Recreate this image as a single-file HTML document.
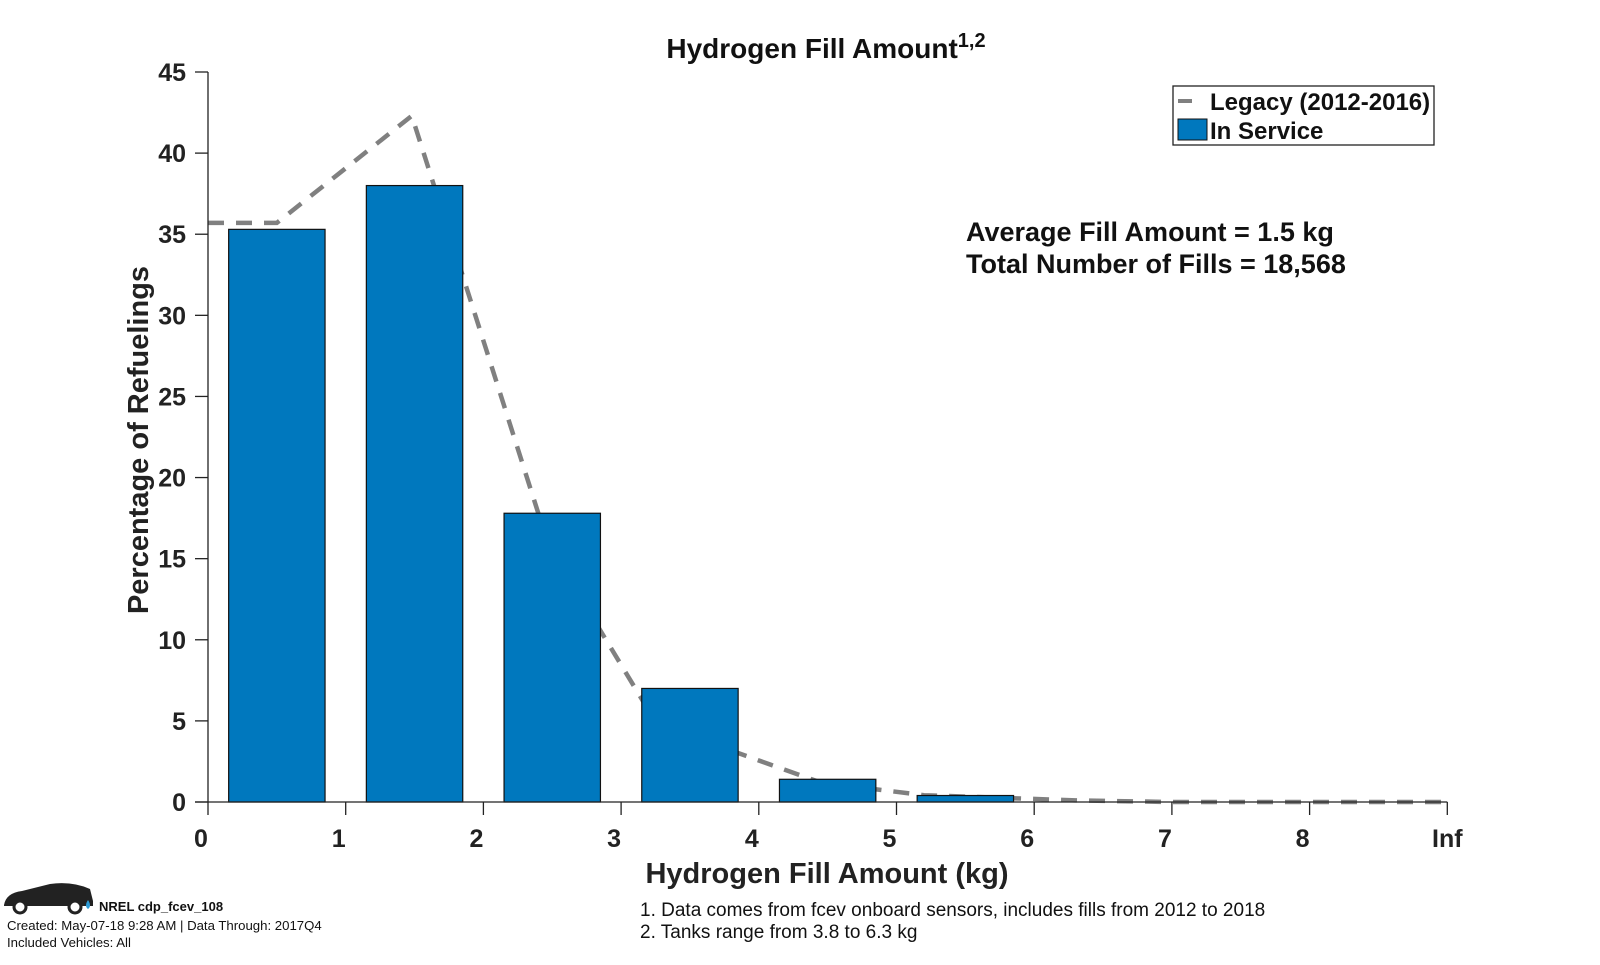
<!DOCTYPE html>
<html><head><meta charset="utf-8"><style>
body{margin:0;background:#fff;width:1600px;height:960px;overflow:hidden;font-family:"Liberation Sans",Arial,sans-serif}
</style></head><body>
<svg id="chart" width="1600" height="960" xmlns="http://www.w3.org/2000/svg" font-family="Liberation Sans, Arial, sans-serif">
<text x="826" y="58" text-anchor="middle" font-size="28" font-weight="bold" fill="#111">Hydrogen Fill Amount<tspan dy="-11" font-size="20">1,2</tspan></text>
<g id="legacy"></g>
<g id="bars"></g>
<g id="axes"></g>
<text transform="translate(148,440) rotate(-90)" text-anchor="middle" font-size="29" font-weight="bold" fill="#222">Percentage of Refuelings</text>
<text x="827" y="883" text-anchor="middle" font-size="29" font-weight="bold" fill="#222">Hydrogen Fill Amount (kg)</text>
<g font-size="27" font-weight="bold" fill="#111">
<text x="966" y="241">Average Fill Amount = 1.5 kg</text>
<text x="966" y="273">Total Number of Fills = 18,568</text>
</g>
<g>
<rect x="1173" y="86" width="261" height="59" fill="#fff" stroke="#222" stroke-width="1.3"/>
<line x1="1178" y1="101" x2="1192" y2="101" stroke="#808080" stroke-width="4"/>
<text x="1210" y="110" font-size="24" font-weight="bold" fill="#111">Legacy (2012-2016)</text>
<rect x="1178" y="119" width="29" height="21" fill="#0078be" stroke="#111" stroke-width="1"/>
<text x="1210" y="139" font-size="24" font-weight="bold" fill="#111">In Service</text>
</g>
<g font-size="19" fill="#111">
<text x="640" y="916">1. Data comes from fcev onboard sensors, includes fills from 2012 to 2018</text>
<text x="640" y="938">2. Tanks range from 3.8 to 6.3 kg</text>
</g>
<g>
<path d="M4,905 Q6,893 22,891 L50,884 Q72,881 90,889 L93,901 L93,906 L4,906 Z" fill="#222"/>
<circle cx="20" cy="907" r="6" fill="#fff" stroke="#222" stroke-width="3"/>
<circle cx="75" cy="907" r="6" fill="#fff" stroke="#222" stroke-width="3"/>
<path d="M88,900 Q84,906 88,909 Q92,906 88,900Z" fill="#2a9ad6"/>
<text x="99" y="911" font-size="13" font-weight="bold" fill="#111">NREL cdp_fcev_108</text>
<text x="7" y="930" font-size="13.2" fill="#111">Created: May-07-18  9:28 AM | Data Through: 2017Q4</text>
<text x="7" y="947" font-size="13.2" fill="#111">Included Vehicles: All</text>
</g>
</svg>
<script>
const binCenters=[0.5,1.5,2.5,3.5,4.5,5.5];
const inService=[35.3,38.0,17.8,7.0,1.4,0.4];
const legacyX=[0,0.5,1.48,2.47,3.26,4.45,5.2,6.3,7,9];
const legacyY=[35.7,35.7,42.3,15.9,4.8,1.2,0.42,0.1,0,0];
const yTicks=[0,5,10,15,20,25,30,35,40,45];
const xTicks=[0,1,2,3,4,5,6,7,8,9];
const xTickLabels=['0','1','2','3','4','5','6','7','8','Inf'];
const NS='http://www.w3.org/2000/svg';
const X0=208,XU=137.7,Y0=802,YU=730/45;
const sx=v=>X0+v*XU, sy=v=>Y0-v*YU;
function mk(t,a,p){const e=document.createElementNS(NS,t);for(const k in a)e.setAttribute(k,a[k]);p.appendChild(e);return e;}
const lg=document.getElementById('legacy');
const pl=mk('polyline',{points:legacyX.map((x,i)=>sx(x)+','+sy(legacyY[i])).join(' '),fill:'none',stroke:'#808080','stroke-width':4.5,'stroke-dasharray':'16,12'},lg);


const bars=document.getElementById('bars');
binCenters.forEach((c,i)=>{
 const r=mk('rect',{x:sx(c-0.35),y:sy(inService[i]),width:0.7*XU,height:sy(0)-sy(inService[i]),fill:'#0078be',stroke:'#111','stroke-width':1.2},bars);
 
 
});
const ax=document.getElementById('axes');
mk('line',{x1:X0,y1:sy(45),x2:X0,y2:Y0,stroke:'#222','stroke-width':1.3},ax);
mk('line',{x1:X0-13,y1:Y0,x2:sx(9),y2:Y0,stroke:'#222','stroke-width':1.3},ax);
yTicks.forEach(v=>{
 mk('line',{x1:X0-13,y1:sy(v),x2:X0,y2:sy(v),stroke:'#222','stroke-width':1.3},ax);
 const t=mk('text',{x:X0-22,y:sy(v)+9,'text-anchor':'end','font-size':25,'font-weight':'bold',fill:'#222'},ax);
 t.textContent=v;
 
 
});
xTicks.forEach((v,i)=>{
 mk('line',{x1:sx(v),y1:Y0,x2:sx(v),y2:Y0+13,stroke:'#222','stroke-width':1.3},ax);
 const t=mk('text',{x:sx(v)-(i==9?0:7),y:Y0+45,'text-anchor':'middle','font-size':25,'font-weight':'bold',fill:'#222'},ax);
 t.textContent=xTickLabels[i];
 
 
});
</script>
</body></html>
